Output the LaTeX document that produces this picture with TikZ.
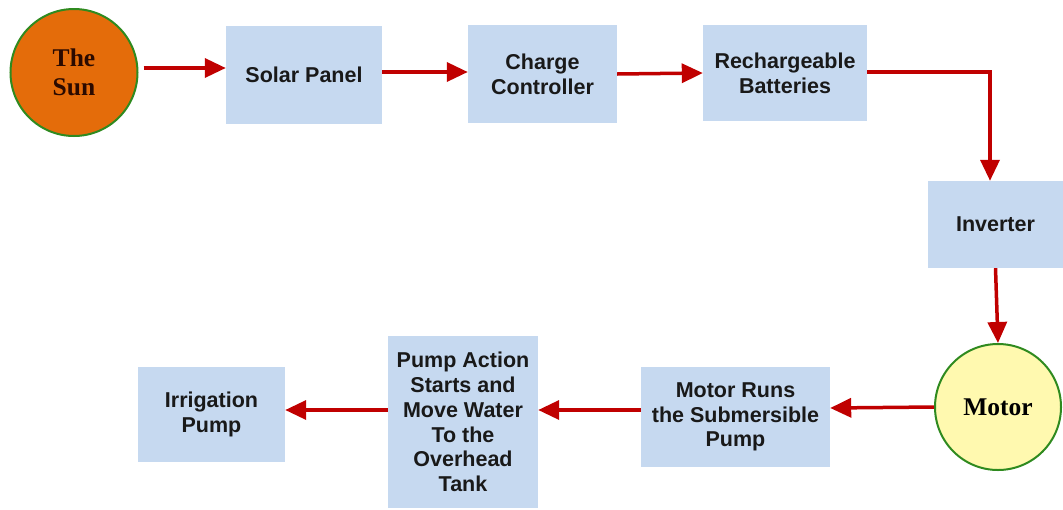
\documentclass[tikz,border=0pt]{standalone}
\usepackage{fontspec}
\setmainfont{Liberation Serif}
\setsansfont{Liberation Sans}
\usetikzlibrary{arrows.meta}
\definecolor{boxblue}{HTML}{C6D9F0}
\definecolor{ringgreen}{HTML}{2F8A1F}
\definecolor{sunorange}{HTML}{E46C0A}
\definecolor{sunbrown}{HTML}{2B0A00}
\definecolor{motoryellow}{HTML}{FFF9AF}
\definecolor{arrowred}{HTML}{C00000}
\begin{document}
\begin{tikzpicture}[x=1pt,y=-1pt,
    blk/.style={fill=boxblue,inner sep=2pt,align=center,text=black!90,
        font=\sffamily\bfseries\fontsize{21.5}{24.8}\selectfont},
    orb/.style={circle,draw=ringgreen,line width=2pt,inner sep=0pt,
        minimum size=126pt,align=center,font=\bfseries\fontsize{25.5}{29}\selectfont},
    flow/.style={-{Triangle[length=21pt,width=19pt]},draw=arrowred,line width=3.5pt}]

    \useasboundingbox (0,0) rectangle (1063,509);

    \node[orb,fill=sunorange,minimum size=127pt,text=sunbrown] (sun) at (74,72.5) {The\\Sun};
    \node[blk,minimum width=156pt,minimum height=98pt] (panel) at (304,75) {Solar Panel};
    \node[blk,minimum width=149pt,minimum height=98pt] (ctrl) at (542.5,74) {Charge\\Controller};
    \node[blk,minimum width=164pt,minimum height=96pt] (batt) at (785,73) {Rechargeable\\Batteries};
    \node[blk,minimum width=135pt,minimum height=87pt] (inv) at (995.5,224.5) {Inverter};
    \node[orb,fill=motoryellow,text=black] (motor) at (998,407) {Motor};
    \node[blk,minimum width=189pt,minimum height=100pt] (runs) at (735.5,417) {Motor Runs\\the Submersible\\Pump};
    \node[blk,minimum width=150pt,minimum height=172pt] (action) at (463,422)
        {Pump Action\\Starts and\\Move Water\\To the\\Overhead\\Tank};
    \node[blk,minimum width=147pt,minimum height=95pt] (irr) at (211.5,414.5) {Irrigation\\Pump};

    \draw[flow,shorten <=5pt] ([yshift=4.5pt]sun.east) to ([yshift=7pt]panel.west);
    \draw[flow] ([yshift=3pt]panel.east) to ([yshift=2pt]ctrl.west);
    \draw[flow] (ctrl.east) to (batt.west);
    \draw[flow] ([yshift=1pt]batt.east) -| ([xshift=-5.5pt]inv.north);
    \draw[flow] (inv.south) to (motor.north);
    \draw[flow] (motor.west) to ([yshift=9pt]runs.east);
    \draw[flow] ([yshift=7pt]runs.west) to ([yshift=12pt]action.east);
    \draw[flow] ([yshift=12pt]action.west) to ([yshift=4.5pt]irr.east);

\end{tikzpicture}
\end{document}
